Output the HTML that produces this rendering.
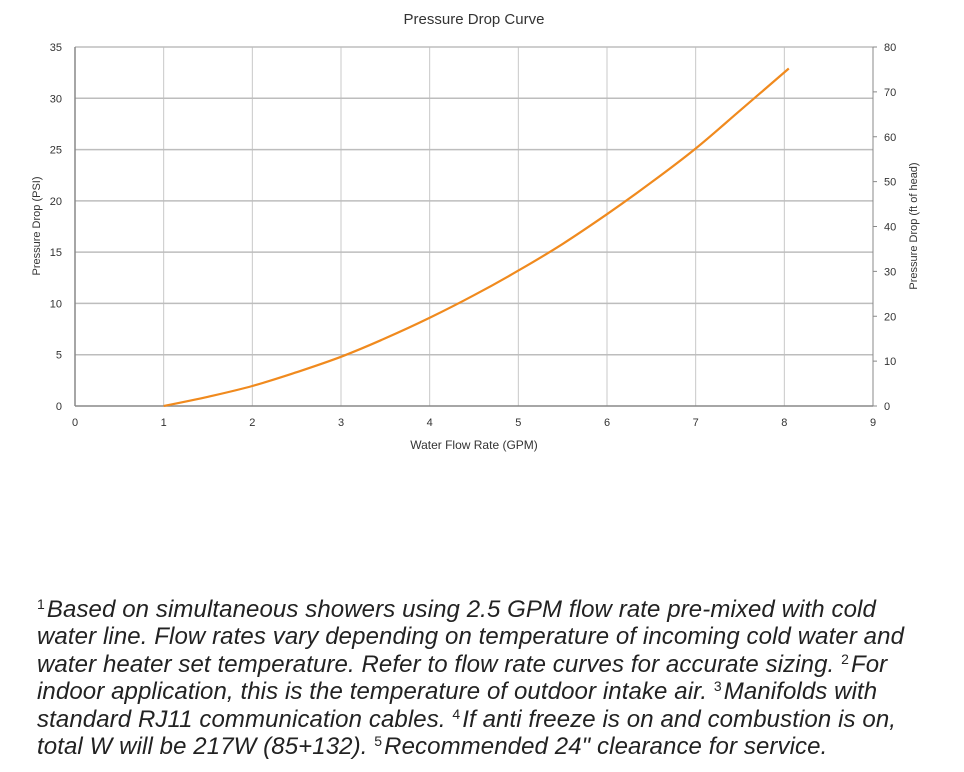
<!DOCTYPE html>
<html><head><meta charset="utf-8"><style>
body{margin:0;background:#fff;width:964px;height:772px;overflow:hidden;position:relative;font-family:"Liberation Sans",sans-serif}
.fn{position:absolute;left:37px;font-style:italic;font-size:24px;line-height:27px;height:27px;color:#222;white-space:nowrap;letter-spacing:0.1px}
.fn sup{font-size:14px;line-height:0;vertical-align:8px;font-style:normal;margin-right:2px}
</style></head><body>
<svg width="964" height="470" style="position:absolute;left:0;top:0" font-family="Liberation Sans, sans-serif">
<text x="474" y="24" text-anchor="middle" font-size="15" fill="#333">Pressure Drop Curve</text>
<g id="grid"></g>
<g id="axes"></g>
<path id="curve" fill="none" stroke="#f08a1e" stroke-width="2.2"/>
<text x="474" y="449" text-anchor="middle" font-size="12" fill="#333">Water Flow Rate (GPM)</text>
<text transform="translate(40,226) rotate(-90)" text-anchor="middle" font-size="11" fill="#333">Pressure Drop (PSI)</text>
<text transform="translate(917,226) rotate(-90)" text-anchor="middle" font-size="11" fill="#333">Pressure Drop (ft of head)</text>
</svg>
<div class="fn" style="top:596px"><sup>1</sup>Based on simultaneous showers using 2.5 GPM flow rate pre-mixed with cold</div>
<div class="fn" style="top:623px">water line. Flow rates vary depending on temperature of incoming cold water and</div>
<div class="fn" style="top:651px">water heater set temperature. Refer to flow rate curves for accurate sizing. <sup>2</sup>For</div>
<div class="fn" style="top:678px">indoor application, this is the temperature of outdoor intake air. <sup>3</sup>Manifolds with</div>
<div class="fn" style="top:706px">standard RJ11 communication cables. <sup>4</sup>If anti freeze is on and combustion is on,</div>
<div class="fn" style="top:733px">total W will be 217W (85+132). <sup>5</sup>Recommended 24" clearance for service.</div>
<script>
const flowRates=[1,1.5,2,2.5,3,3.5,4,4.5,5,5.5,6,6.5,7,7.5,8.05];
const psiValues=[0,0.9,1.95,3.3,4.8,6.6,8.6,10.8,13.2,15.8,18.7,21.8,25.1,28.8,32.9];
const xTicks=[0,1,2,3,4,5,6,7,8,9];
const yTicks=[0,5,10,15,20,25,30,35];
const y2Ticks=[0,10,20,30,40,50,60,70,80];
const NS="http://www.w3.org/2000/svg";
const X0=75,X1=873,Y0=406,Y1=47;
const xs=v=>X0+(X1-X0)*v/9;
const ys=v=>Y0-(Y0-Y1)*v/35;
const ys2=v=>Y0-(Y0-Y1)*v/80;
function mk(tag,at,parent){const e=document.createElementNS(NS,tag);for(const k in at)e.setAttribute(k,at[k]);document.getElementById(parent).appendChild(e);return e;}
xTicks.forEach(t=>{
 if(t>0&&t<9){const l=mk('line',{x1:xs(t),x2:xs(t),y1:Y1,y2:Y0,stroke:'#c8c8c8','stroke-width':1},'grid');
 
 }
 const tx=mk('text',{x:xs(t),y:426,'text-anchor':'middle','font-size':11,fill:'#333'},'axes');tx.textContent=t;
 
 
});
yTicks.forEach(t=>{
 if(t>0){const l=mk('line',{x1:X0,x2:X1,y1:ys(t),y2:ys(t),stroke:'#bdbdbd','stroke-width':1.5},'grid');
 
 }
 const tx=mk('text',{x:62,y:ys(t)+4,'text-anchor':'end','font-size':11,fill:'#333'},'axes');tx.textContent=t;
 
 
});
y2Ticks.forEach(t=>{
 mk('line',{x1:X1,x2:X1+4,y1:ys2(t),y2:ys2(t),stroke:'#888'},'axes');
 const tx=mk('text',{x:884,y:ys2(t)+4,'font-size':11,fill:'#333'},'axes');tx.textContent=t;
 
 
});
mk('line',{x1:X0,x2:X0,y1:Y1,y2:Y0,stroke:'#888','stroke-width':1.5},'axes');
mk('line',{x1:X1,x2:X1,y1:Y1,y2:Y0,stroke:'#888','stroke-width':1},'axes');
mk('line',{x1:X0,x2:X1,y1:Y0,y2:Y0,stroke:'#888','stroke-width':1.5},'axes');
const P=flowRates.map((f,i)=>[xs(f),ys(psiValues[i])]);
let d='M'+P[0][0].toFixed(1)+' '+P[0][1].toFixed(1);
for(let i=0;i<P.length-1;i++){
 const p0=P[Math.max(0,i-1)],p1=P[i],p2=P[i+1],p3=P[Math.min(P.length-1,i+2)];
 const c1=[p1[0]+(p2[0]-p0[0])/6,p1[1]+(p2[1]-p0[1])/6];
 const c2=[p2[0]-(p3[0]-p1[0])/6,p2[1]-(p3[1]-p1[1])/6];
 d+=' C'+c1.map(v=>v.toFixed(1)).join(' ')+' '+c2.map(v=>v.toFixed(1)).join(' ')+' '+p2.map(v=>v.toFixed(1)).join(' ');
}
document.getElementById('curve').setAttribute('d',d);
</script>
</body></html>
